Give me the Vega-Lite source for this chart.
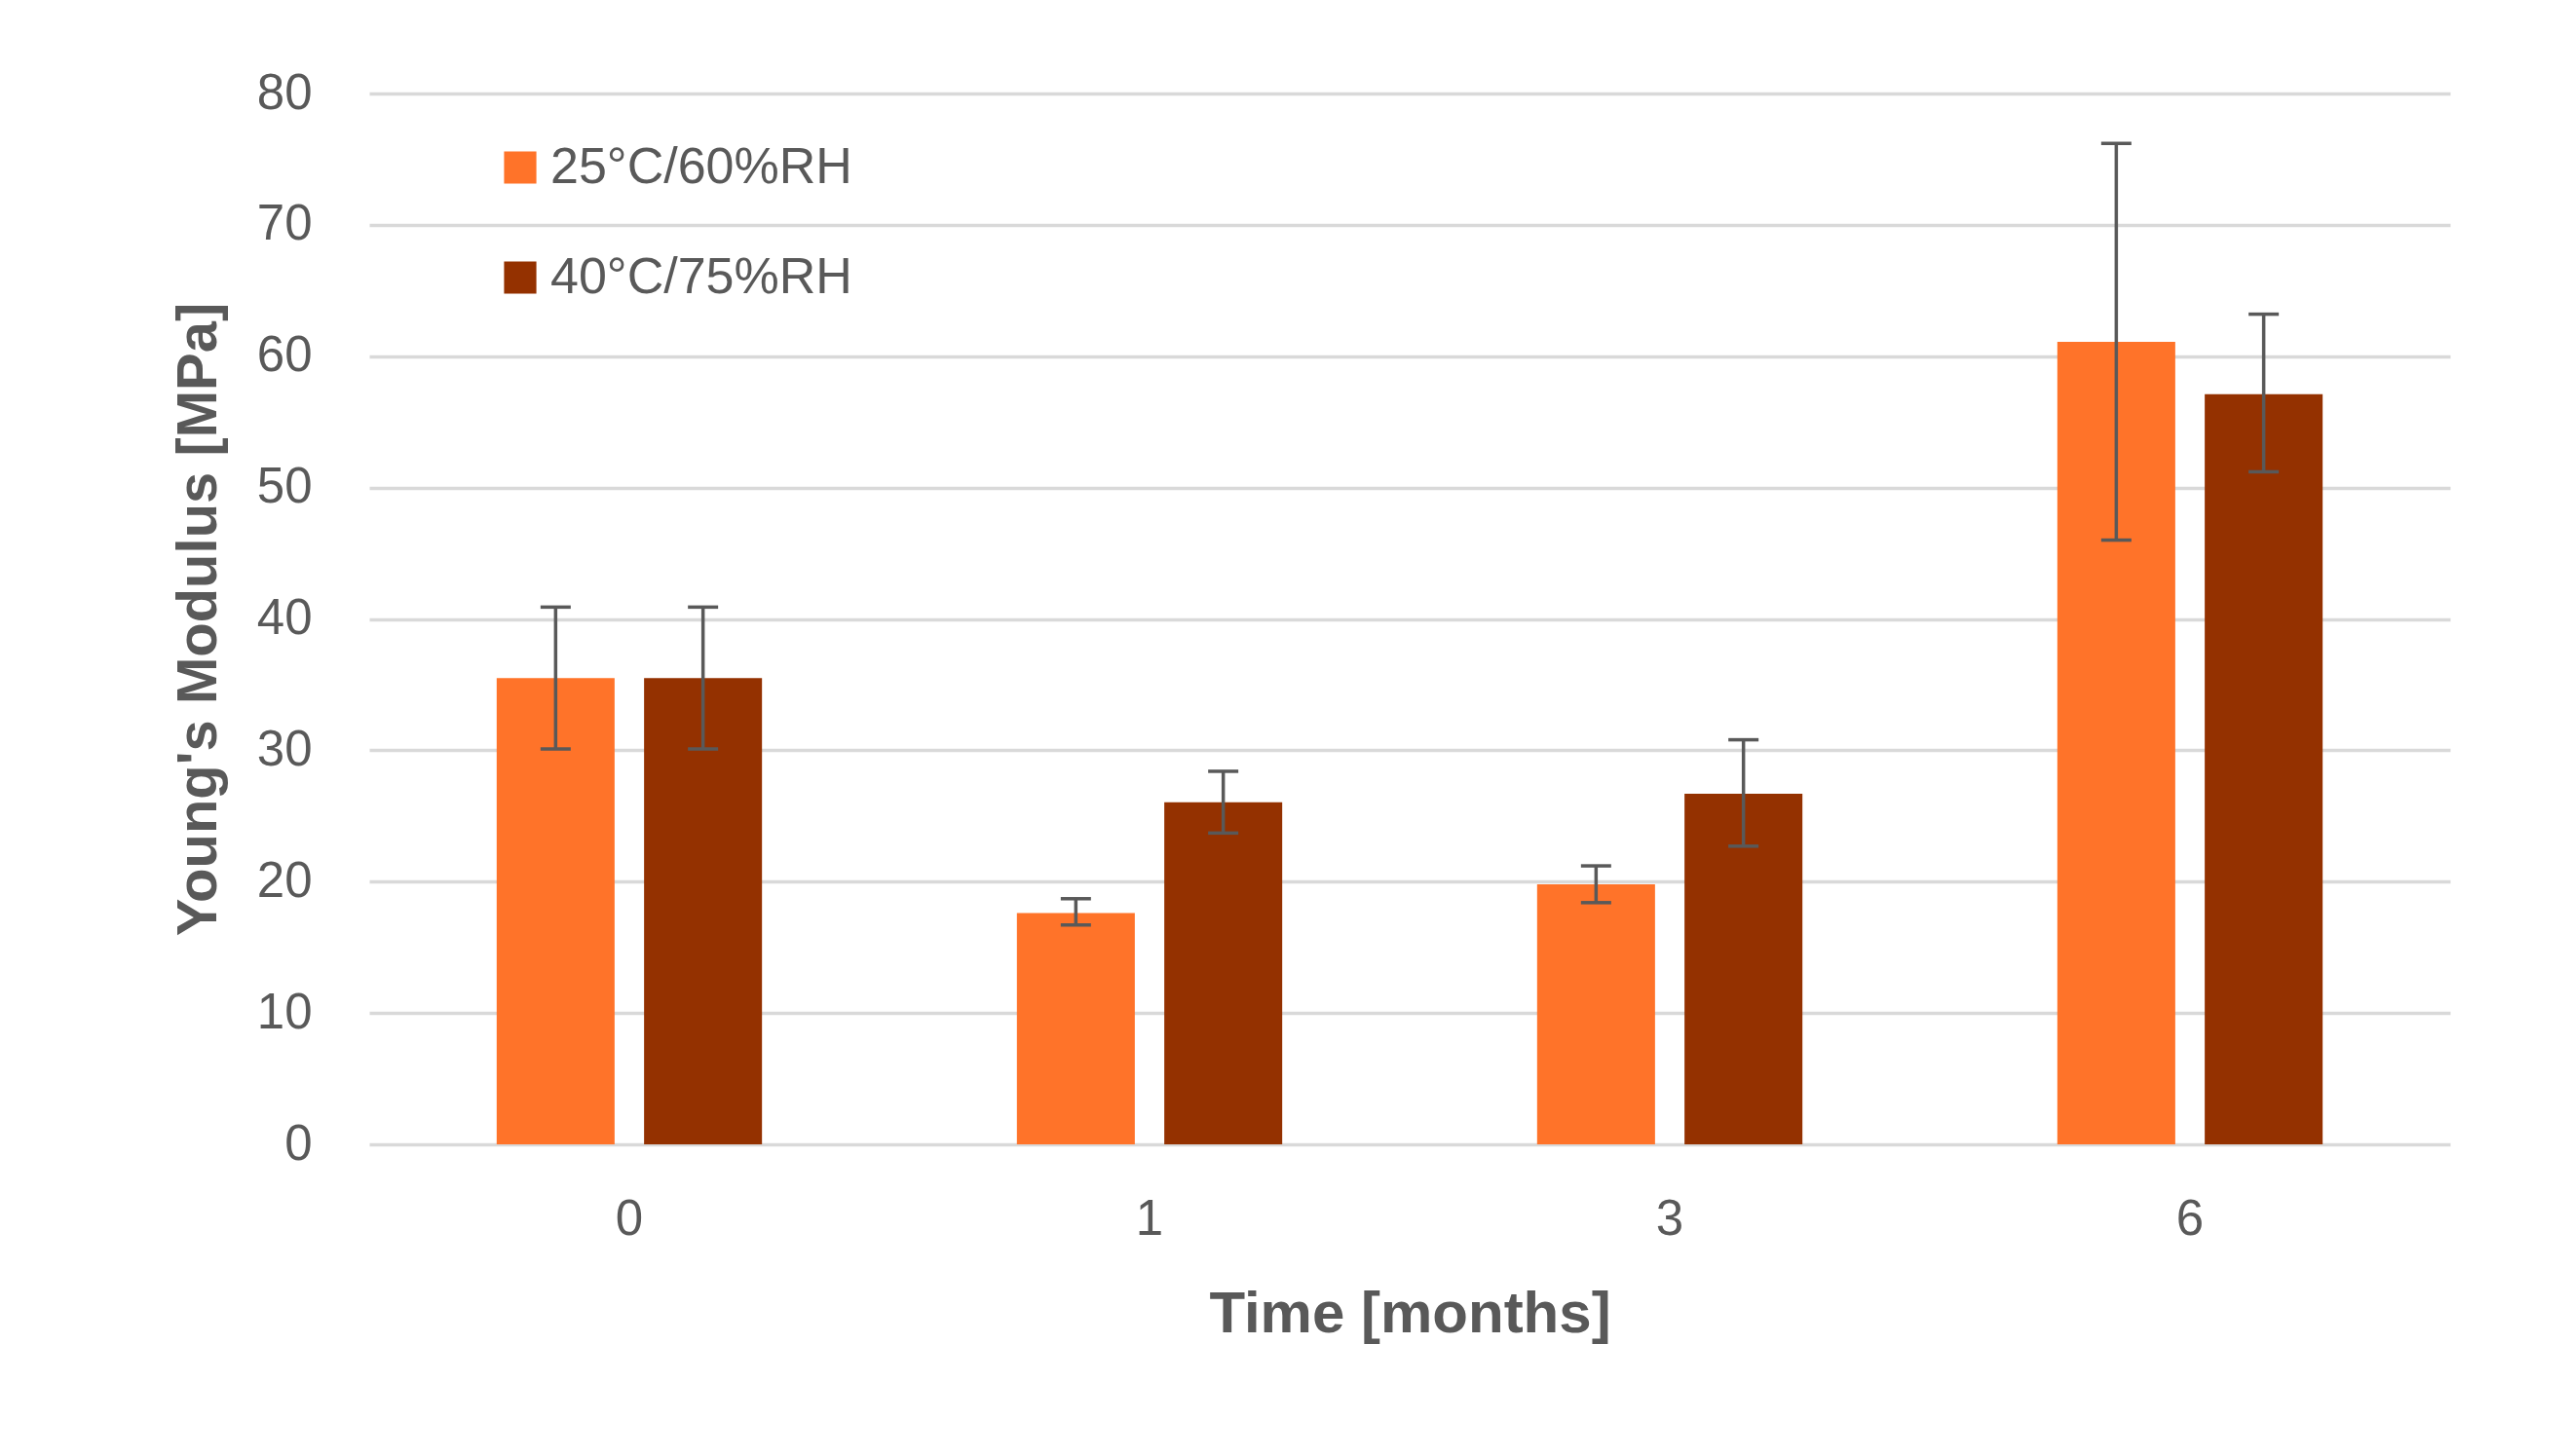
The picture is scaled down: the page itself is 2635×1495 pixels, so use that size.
{
  "$schema": "https://vega.github.io/schema/vega-lite/v6.json",
  "width": 2136,
  "height": 1079,
  "autosize": "none",
  "padding": {"left": 379, "top": 96, "right": 120, "bottom": 320},
  "background": "white",
  "config": {
    "view": {"stroke": null},
    "font": "Liberation Sans",
    "axis": {"labelFont": "Liberation Sans", "titleFont": "Liberation Sans", "labelColor": "#595959", "titleColor": "#595959"}
  },
  "data": {
    "values": [
      {"time": "0", "cond": "25°C/60%RH", "value": 35.5, "lo": 30.1, "hi": 40.9},
      {"time": "0", "cond": "40°C/75%RH", "value": 35.5, "lo": 30.1, "hi": 40.9},
      {"time": "1", "cond": "25°C/60%RH", "value": 17.6, "lo": 16.7, "hi": 18.7},
      {"time": "1", "cond": "40°C/75%RH", "value": 26.05, "lo": 23.7, "hi": 28.4},
      {"time": "3", "cond": "25°C/60%RH", "value": 19.8, "lo": 18.4, "hi": 21.2},
      {"time": "3", "cond": "40°C/75%RH", "value": 26.7, "lo": 22.7, "hi": 30.8},
      {"time": "6", "cond": "25°C/60%RH", "value": 61.1, "lo": 46.0, "hi": 76.2},
      {"time": "6", "cond": "40°C/75%RH", "value": 57.1, "lo": 51.2, "hi": 63.2}
    ]
  },
  "encoding": {
    "x": {
      "field": "time", "type": "nominal", "sort": ["0", "1", "3", "6"],
      "scale": {"paddingInner": 0.49, "paddingOuter": 0.245},
      "title": "Time [months]",
      "axis": {"labelAngle": 0, "labelFontSize": 51, "labelPadding": 52, "ticks": false, "domain": false, "titleFontSize": 60, "titleFontWeight": "bold", "titlePadding": 43}
    },
    "xOffset": {
      "field": "cond", "type": "nominal", "sort": ["25°C/60%RH", "40°C/75%RH"],
      "scale": {"paddingInner": 0.2, "paddingOuter": 0}
    }
  },
  "layer": [
    {
      "mark": {"type": "bar"},
      "encoding": {
        "y": {
          "field": "value", "type": "quantitative",
          "scale": {"domain": [0, 80], "nice": false},
          "title": "Young's Modulus [MPa]",
          "axis": {"values": [0, 10, 20, 30, 40, 50, 60, 70, 80], "labelFontSize": 51, "labelPadding": 59, "ticks": false, "domain": false, "grid": true, "gridColor": "#D9D9D9", "gridWidth": 3.5, "titleFontSize": 58, "titleFontWeight": "bold", "titlePadding": 30}
        },
        "color": {
          "field": "cond", "type": "nominal", "sort": ["25°C/60%RH", "40°C/75%RH"],
          "scale": {"range": ["#FF7329", "#943100"]},
          "legend": {"orient": "none", "legendX": 129, "legendY": 50, "title": null, "symbolType": "square", "symbolSize": 1100, "symbolStrokeWidth": 0, "labelFontSize": 52, "labelFont": "Liberation Sans", "labelColor": "#595959", "rowPadding": 61, "labelOffset": 5, "padding": 0, "labelLimit": 0}
        }
      }
    },
    {
      "mark": {"type": "rule", "color": "#595959", "strokeWidth": 3.5},
      "encoding": {
        "y": {"field": "lo", "type": "quantitative", "title": "Young's Modulus [MPa]"},
        "y2": {"field": "hi"}
      }
    },
    {
      "mark": {"type": "tick", "orient": "horizontal", "color": "#595959", "size": 31, "thickness": 3.5, "opacity": 1},
      "encoding": {
        "y": {"field": "hi", "type": "quantitative", "title": "Young's Modulus [MPa]"}
      }
    },
    {
      "mark": {"type": "tick", "orient": "horizontal", "color": "#595959", "size": 31, "thickness": 3.5, "opacity": 1},
      "encoding": {
        "y": {"field": "lo", "type": "quantitative", "title": "Young's Modulus [MPa]"}
      }
    }
  ]
}
